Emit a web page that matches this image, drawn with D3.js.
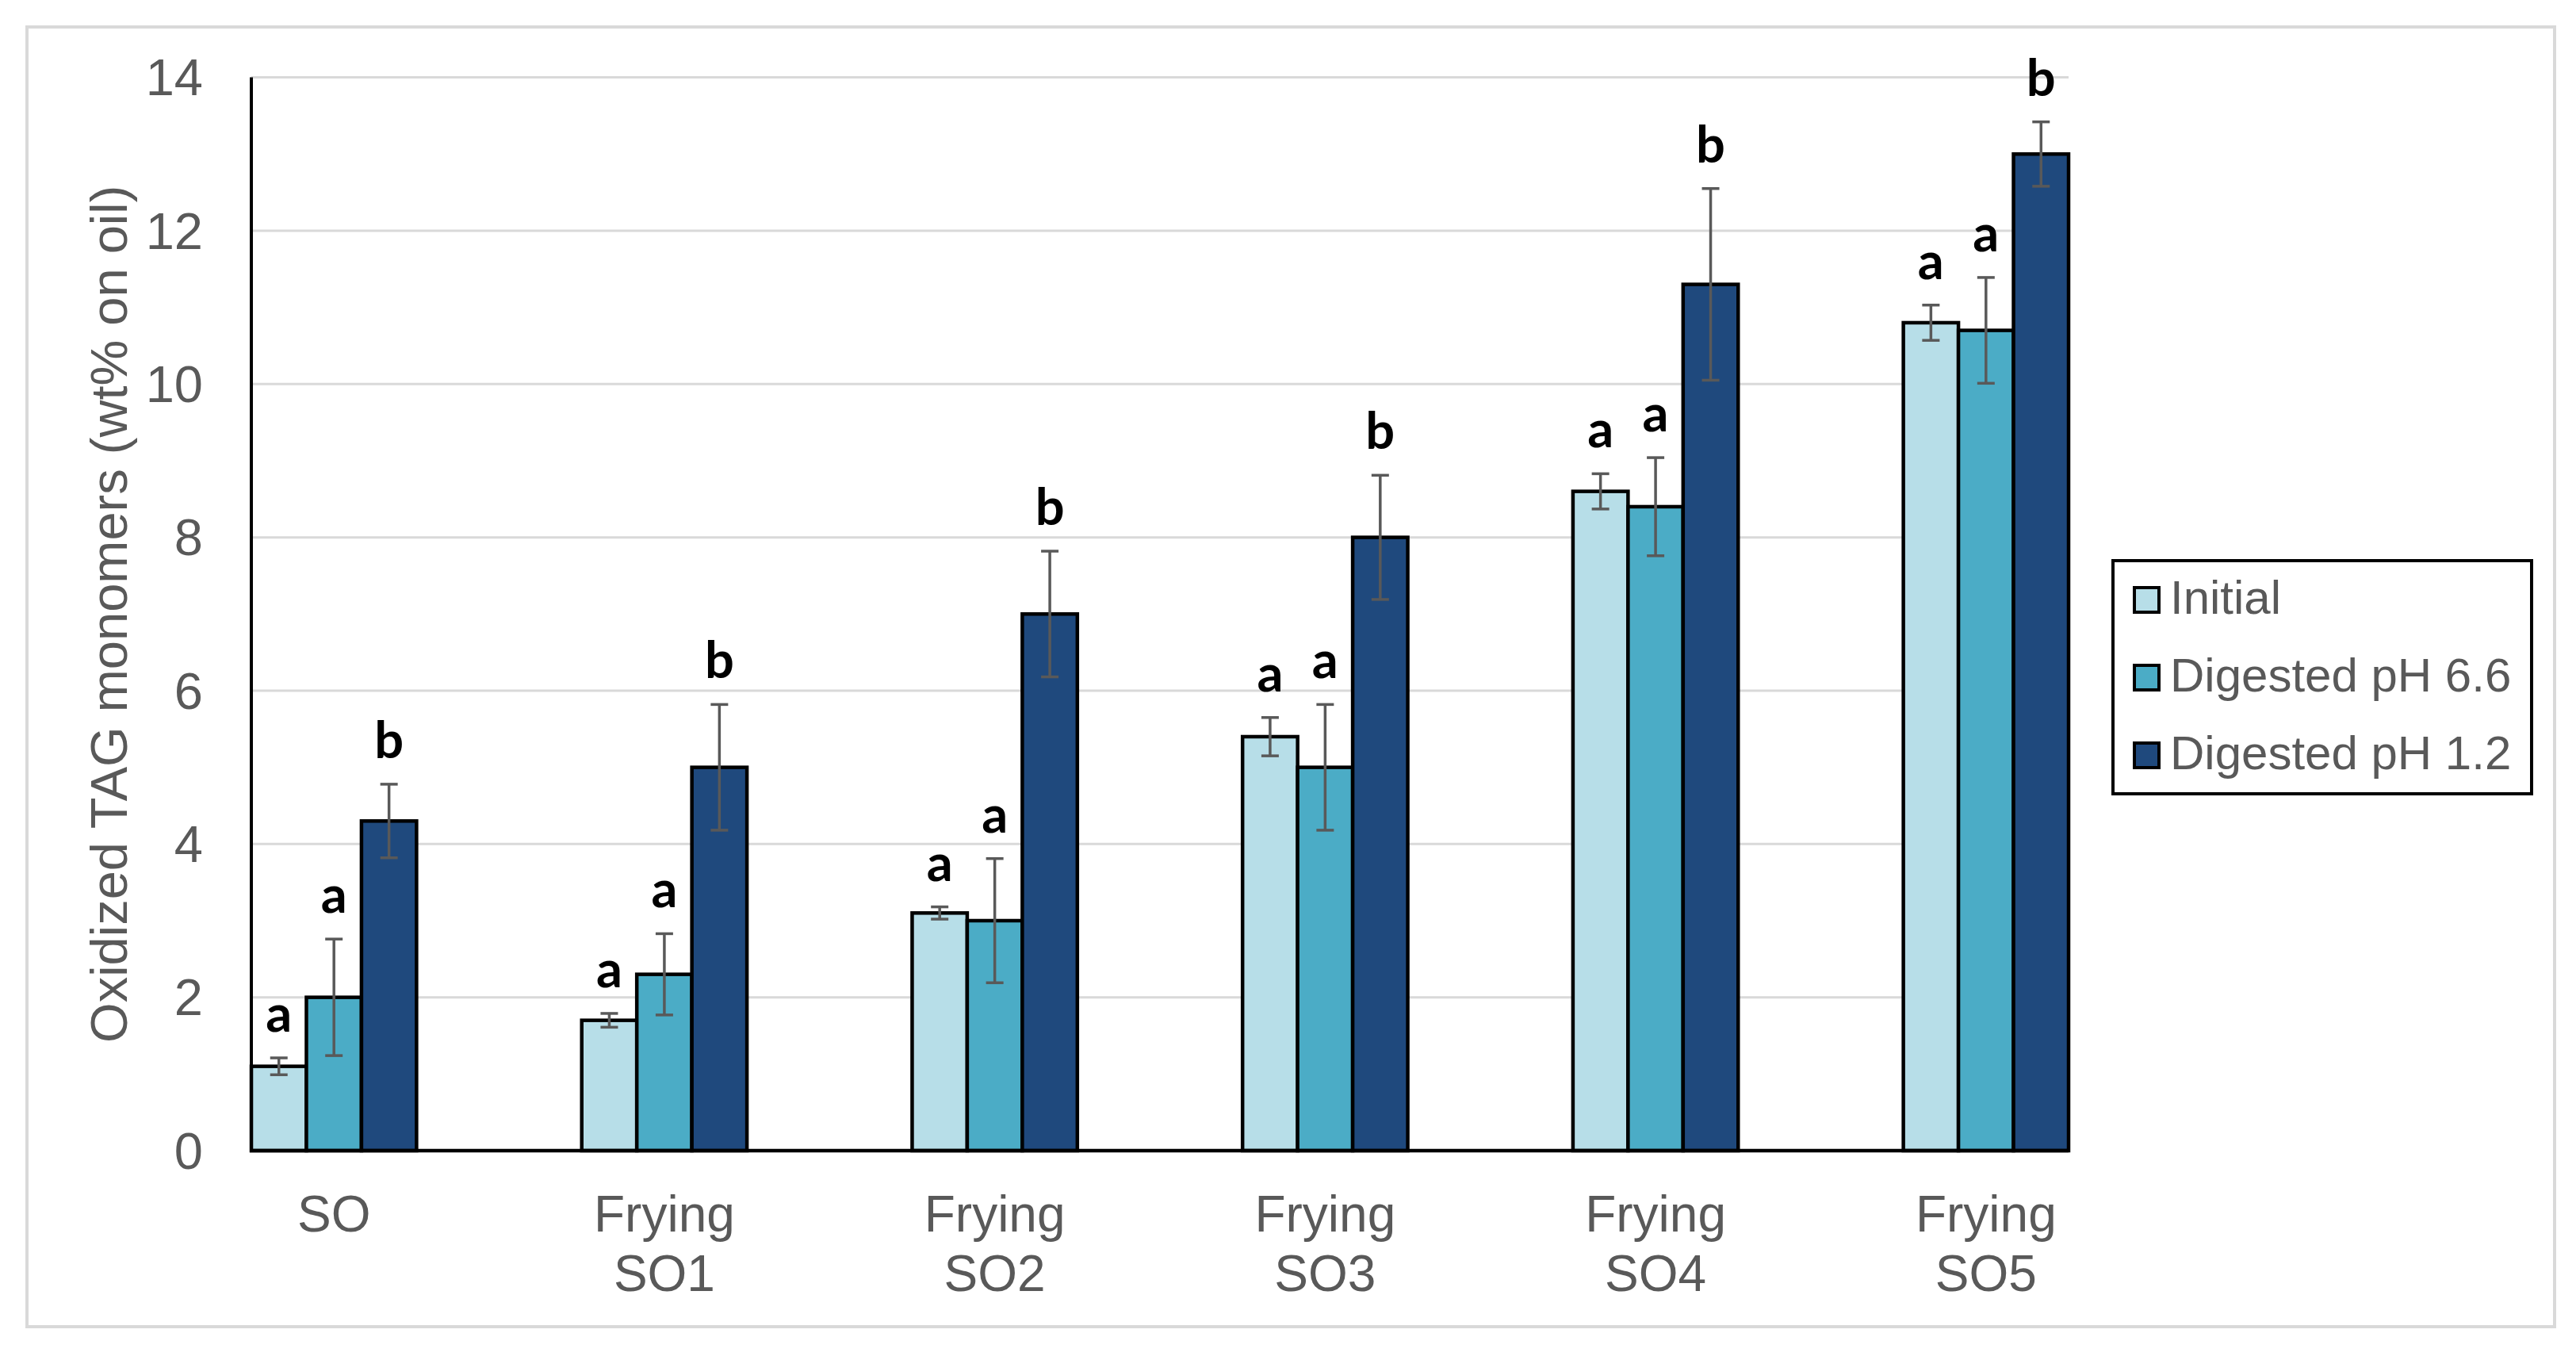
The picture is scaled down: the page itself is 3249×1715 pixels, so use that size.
<!DOCTYPE html>
<html>
<head>
<meta charset="utf-8">
<script src="https://cdn.jsdelivr.net/npm/d3@7"></script>
<style>
  html, body { margin: 0; padding: 0; background: #ffffff; }
  svg { display: block; }
</style>
</head>
<body>
<script>
// ---------------- DATA ----------------
const categories = ["SO", "Frying SO1", "Frying SO2", "Frying SO3", "Frying SO4", "Frying SO5"];
const categoryLines = [["SO"], ["Frying", "SO1"], ["Frying", "SO2"], ["Frying", "SO3"], ["Frying", "SO4"], ["Frying", "SO5"]];
const seriesNames = ["Initial", "Digested pH 6.6", "Digested pH 1.2"];

const initialValues = [1.1, 1.7, 3.1, 5.4, 8.6, 10.8];
const initialErrors = [0.11, 0.09, 0.08, 0.25, 0.23, 0.23];
const initialLetters = ["a", "a", "a", "a", "a", "a"];

const ph66Values = [2.0, 2.3, 3.0, 5.0, 8.4, 10.7];
const ph66Errors = [0.76, 0.53, 0.81, 0.82, 0.64, 0.69];
const ph66Letters = ["a", "a", "a", "a", "a", "a"];

const ph12Values = [4.3, 5.0, 7.0, 8.0, 11.3, 13.0];
const ph12Errors = [0.48, 0.82, 0.82, 0.81, 1.25, 0.42];
const ph12Letters = ["b", "b", "b", "b", "b", "b"];

const yTicks = [0, 2, 4, 6, 8, 10, 12, 14];
const yTitle = "Oxidized TAG monomers (wt% on oil)";

// ---------------- LAYOUT ----------------
const W = 3249, H = 1715;
const plot = { left: 317, right: 2609, top: 97.6, bottom: 1451 };
const colors = ["#b7dee8", "#4bacc6", "#1f497d"];
const textGray = "#595959";
const sansFont = "'Liberation Sans', Arial, sans-serif";
const letterFont = "Lato, 'Open Sans', sans-serif";

const seriesData = [
  { name: seriesNames[0], values: initialValues, errors: initialErrors, letters: initialLetters },
  { name: seriesNames[1], values: ph66Values, errors: ph66Errors, letters: ph66Letters },
  { name: seriesNames[2], values: ph12Values, errors: ph12Errors, letters: ph12Letters }
];

const svg = d3.select("body").append("svg").attr("width", W).attr("height", H);
svg.append("rect").attr("width", W).attr("height", H).attr("fill", "#ffffff");

// outer chart frame
svg.append("rect")
  .attr("x", 34).attr("y", 34).attr("width", 3222 - 34).attr("height", 1673 - 34)
  .attr("fill", "none").attr("stroke", "#d9d9d9").attr("stroke-width", 4);

// scales
const x0 = d3.scaleBand().domain(categories).range([plot.left, plot.right]).paddingInner(0.5).paddingOuter(0);
const x1 = d3.scaleBand().domain(seriesNames).range([0, x0.bandwidth()]).padding(0);
const y = d3.scaleLinear().domain([0, 14]).range([plot.bottom, plot.top]);

// gridlines
svg.append("g").selectAll("line").data(yTicks.filter(d => d > 0)).join("line")
  .attr("x1", plot.left).attr("x2", plot.right)
  .attr("y1", d => y(d)).attr("y2", d => y(d))
  .attr("stroke", "#d9d9d9").attr("stroke-width", 3);

// y axis via d3.axisLeft (labels only)
const yAxis = svg.append("g").attr("transform", `translate(${plot.left},0)`)
  .call(d3.axisLeft(y).tickValues(yTicks).tickSize(0).tickPadding(61).tickFormat(d3.format("d")));
yAxis.select(".domain").remove();
yAxis.selectAll("text").attr("font-family", sansFont).attr("font-size", 65)
  .attr("fill", textGray).attr("dy", "0.34em");

// bars
const groups = svg.append("g").selectAll("g").data(categories).join("g")
  .attr("transform", d => `translate(${x0(d)},0)`);

seriesData.forEach((s, si) => {
  groups.append("rect")
    .attr("x", x1(s.name))
    .attr("width", x1.bandwidth())
    .attr("y", (d, i) => y(s.values[i]))
    .attr("height", (d, i) => y(0) - y(s.values[i]))
    .attr("fill", colors[si])
    .attr("stroke", "#000000")
    .attr("stroke-width", 4.5);
});

// error bars
seriesData.forEach((s, si) => {
  const cx = x1(s.name) + x1.bandwidth() / 2;
  const eb = groups.append("g").attr("stroke", "#595959").attr("stroke-width", 3.5);
  eb.append("line").attr("x1", cx).attr("x2", cx)
    .attr("y1", (d, i) => y(s.values[i] + s.errors[i]))
    .attr("y2", (d, i) => y(s.values[i] - s.errors[i]));
  eb.append("line").attr("x1", cx - 11).attr("x2", cx + 11)
    .attr("y1", (d, i) => y(s.values[i] + s.errors[i]))
    .attr("y2", (d, i) => y(s.values[i] + s.errors[i]));
  eb.append("line").attr("x1", cx - 11).attr("x2", cx + 11)
    .attr("y1", (d, i) => y(s.values[i] - s.errors[i]))
    .attr("y2", (d, i) => y(s.values[i] - s.errors[i]));
});

// significance letters
seriesData.forEach((s, si) => {
  const cx = x1(s.name) + x1.bandwidth() / 2;
  groups.append("text")
    .attr("x", cx)
    .attr("y", (d, i) => y(s.values[i] + s.errors[i]) - 33)
    .attr("text-anchor", "middle")
    .attr("font-family", letterFont)
    .attr("font-weight", 700)
    .attr("font-size", 65)
    .attr("fill", "#000000")
    .text((d, i) => s.letters[i]);
});

// axes lines
svg.append("line").attr("x1", plot.left).attr("x2", plot.left)
  .attr("y1", plot.top).attr("y2", plot.bottom)
  .attr("stroke", "#000000").attr("stroke-width", 4);
svg.append("line").attr("x1", plot.left - 2).attr("x2", plot.right)
  .attr("y1", plot.bottom).attr("y2", plot.bottom)
  .attr("stroke", "#000000").attr("stroke-width", 4.5);

// category labels
categories.forEach((c, i) => {
  const t = svg.append("text")
    .attr("x", x0(c) + x0.bandwidth() / 2)
    .attr("y", 1553)
    .attr("text-anchor", "middle")
    .attr("font-family", sansFont)
    .attr("font-size", 64)
    .attr("fill", textGray);
  categoryLines[i].forEach((line, li) => {
    t.append("tspan").attr("x", x0(c) + x0.bandwidth() / 2).attr("dy", li === 0 ? 0 : 75).text(line);
  });
});

// y axis title
svg.append("text")
  .attr("transform", `translate(160,${(plot.top + plot.bottom) / 2}) rotate(-90)`)
  .attr("text-anchor", "middle")
  .attr("font-family", sansFont)
  .attr("font-size", 65)
  .attr("fill", textGray)
  .text(yTitle);

// legend
const legend = svg.append("g");
legend.append("rect")
  .attr("x", 2665).attr("y", 707).attr("width", 3193 - 2665).attr("height", 1001 - 707)
  .attr("fill", "#ffffff").attr("stroke", "#000000").attr("stroke-width", 4);
seriesNames.forEach((n, i) => {
  const by = 774 + i * 98;
  legend.append("rect")
    .attr("x", 2692).attr("y", by - 33).attr("width", 31).attr("height", 31)
    .attr("fill", colors[i]).attr("stroke", "#000000").attr("stroke-width", 4);
  legend.append("text")
    .attr("x", 2737).attr("y", by)
    .attr("font-family", sansFont).attr("font-size", 60)
    .attr("fill", textGray)
    .text(n);
});
</script>
</body>
</html>
